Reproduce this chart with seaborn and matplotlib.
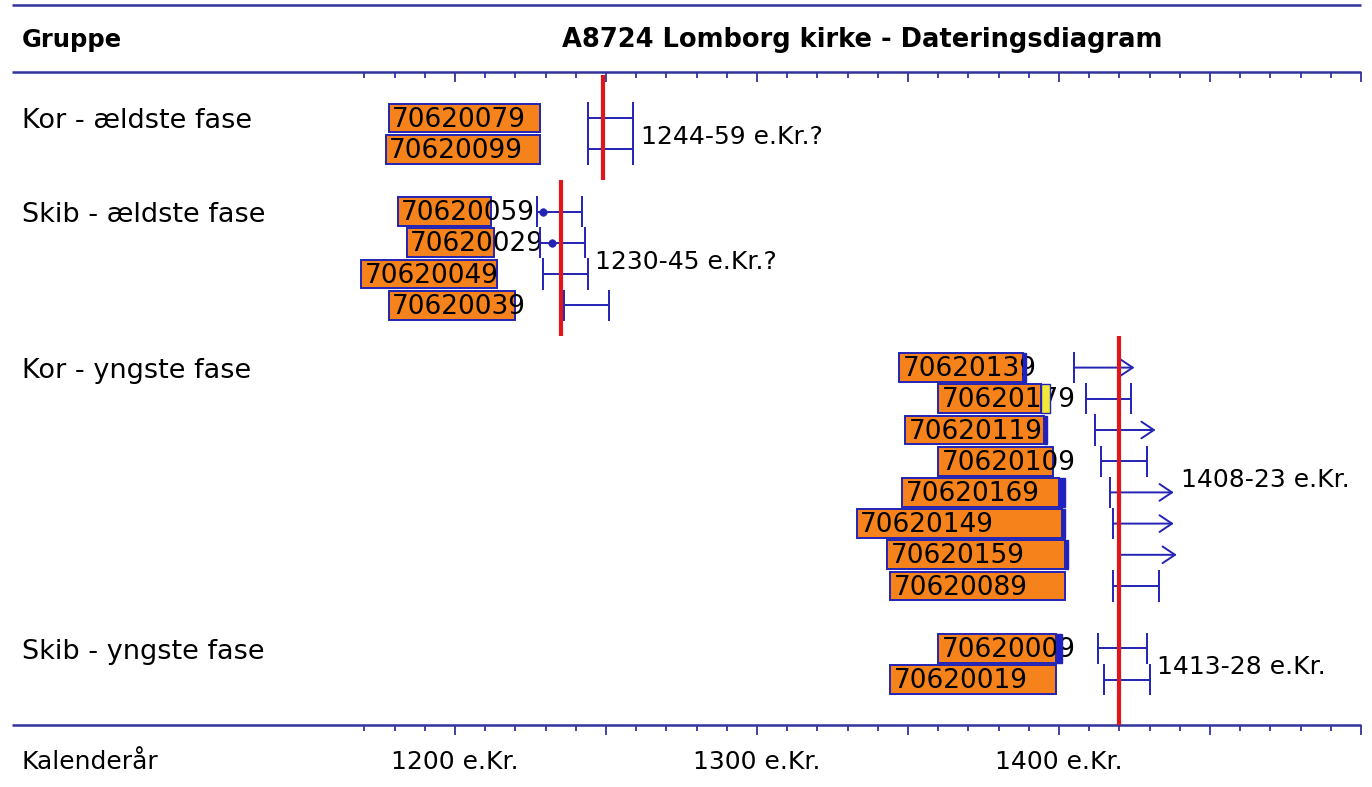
import numpy as np
import pandas as pd
import matplotlib
matplotlib.use('Agg')
import matplotlib.pyplot as plt
import matplotlib.transforms as mtransforms
import seaborn as sns

# --- data (calendar years AD) ---
samples = ['70620079', '70620099',
           '70620059', '70620029', '70620049', '70620039',
           '70620139', '70620179', '70620119', '70620109',
           '70620169', '70620149', '70620159', '70620089',
           '70620009', '70620019']
group_of = [0, 0, 1, 1, 1, 1, 2, 2, 2, 2, 2, 2, 2, 2, 3, 3]
first_year = [1178, 1177, 1181, 1184, 1169, 1178,
              1347, 1360, 1349, 1360, 1348, 1333, 1343, 1344, 1360, 1344]
last_heart = [1228, 1228, 1212, 1213, 1214, 1220,
              1388, 1394, 1395, 1398, 1400, 1401, 1402, 1402, 1399, 1399]
last_sap = [np.nan, np.nan, np.nan, np.nan, np.nan, np.nan,
            1389, 1397, 1396, np.nan, 1402, 1402, 1403, np.nan, 1401, np.nan]
sap_type = ['', '', '', '', '', '',
            'sure', 'unsure', 'sure', '', 'sure', 'sure', 'sure', '', 'sure', '']
fell_lo = [1244, 1244, 1227, 1228, 1229, 1236,
           1405, 1409, 1412, 1414, 1417, 1418, 1420, 1418, 1413, 1415]
fell_hi = [1259, 1259, 1242, 1243, 1244, 1251,
           1425, 1424, 1432, 1429, 1438, 1438, 1439, 1433, 1429, 1430]
open_end = [0, 0, 0, 0, 0, 0, 1, 0, 1, 0, 1, 1, 1, 0, 0, 0]
dot_year = [np.nan, np.nan, 1229, 1232] + [np.nan] * 12

groups = ['Kor - ældste fase', 'Skib - ældste fase', 'Kor - yngste fase', 'Skib - yngste fase']
group_fell = [1249, 1235, 1420, 1420]
group_dating = ['1244-59 e.Kr.?', '1230-45 e.Kr.?', '1408-23 e.Kr.', '1413-28 e.Kr.']

title = 'A8724 Lomborg kirke - Dateringsdiagram'
tick_years = [1200, 1300, 1400]

df = pd.DataFrame({'sample': samples, 'group': group_of, 'first': first_year,
                   'heart': last_heart, 'sap': last_sap, 'sap_type': sap_type,
                   'lo': fell_lo, 'hi': fell_hi, 'open': open_end, 'dot': dot_year})

# one empty row between groups
rows = []
r = 0
for i, g in enumerate(df['group']):
    if i > 0 and g != df['group'][i - 1]:
        r += 1
    rows.append(r)
    r += 1
df['row'] = rows

# --- style ---
sns.set_theme(style='white')
plt.rcParams['font.family'] = ['DejaVu Sans']
plt.rcParams['text.color'] = 'black'

line_col = '#33339e'
blue = '#2323b4'
orange = '#f5821a'
red = '#e0161b'
sap_col = {'sure': '#2020c8', 'unsure': '#f2e83a'}

W, H = 1372, 787
px_per_year = 3.02
x0 = 1200 - 455 / px_per_year
x1 = x0 + W / px_per_year
row_px = 31.2
y_top = -118 / row_px
y_bot = (H - 118) / row_px


def px_row(y):
    return (y - 118) / row_px


fig = plt.figure(figsize=(W / 100, H / 100), dpi=100)
ax = fig.add_axes([0, 0, 1, 1])
ax.set_xlim(x0, x1)
ax.set_ylim(y_bot, y_top)
ax.axis('off')
fig.patch.set_facecolor('white')

blend = mtransforms.blended_transform_factory(ax.transAxes, ax.transData)

# frame lines and year ticks
line_start = x0 + 12 / px_per_year
head_row, foot_row = px_row(72), px_row(725)
ax.hlines(px_row(5), line_start, 1500, color=line_col, lw=1.8)
ticks = np.arange(1170, 1501, 10)
for yr in [head_row, foot_row]:
    ax.hlines(yr, line_start, 1500, color=line_col, lw=1.8)
    long = ticks % 50 == 0
    ax.vlines(ticks[~long], yr, yr + 0.2, color=line_col, lw=1.3)
    ax.vlines(ticks[long], yr, yr + 0.32, color=line_col, lw=1.3)

ax.text(22 / W, px_row(40), 'Gruppe', transform=blend, fontsize=17.5,
        fontweight='bold', va='center', ha='left')
ax.text(862 / W, px_row(40), title, transform=blend, fontsize=18.5,
        fontweight='bold', va='center', ha='center')
ax.text(22 / W, px_row(762), 'Kalenderår', transform=blend, fontsize=18,
        va='center', ha='left')
for t in tick_years:
    ax.text(t, px_row(762), f'{t} e.Kr.', fontsize=18, va='center', ha='center')

# heartwood bars
bar_h = 0.92
ax.barh(df['row'], df['heart'] - df['first'], left=df['first'], height=bar_h,
        color=orange, edgecolor=blue, linewidth=1.4, zorder=2)
for _, s in df.iterrows():
    ax.text(s['first'] + 1.2, s['row'] + 0.05, s['sample'], fontsize=19,
            va='center', ha='left', color='black', zorder=3)

# sapwood
sp = df.dropna(subset=['sap'])
ax.barh(sp['row'], sp['sap'] - sp['heart'], left=sp['heart'], height=bar_h,
        color=[sap_col[t] for t in sp['sap_type']], edgecolor=blue,
        linewidth=1.0, zorder=4)

# felling intervals
for _, s in df.iterrows():
    rr = s['row']
    ax.vlines(s['lo'], rr - 0.5, rr + 0.5, color=blue, lw=1.4, zorder=5)
    if s['open']:
        ax.annotate('', xy=(s['hi'], rr), xytext=(s['lo'], rr), zorder=5,
                    arrowprops=dict(arrowstyle='->, head_length=0.45, head_width=0.3',
                                    color=blue, lw=1.4, shrinkA=0, shrinkB=0,
                                    mutation_scale=20))
    else:
        ax.hlines(rr, s['lo'], s['hi'], color=blue, lw=1.4, zorder=5)
        ax.vlines(s['hi'], rr - 0.5, rr + 0.5, color=blue, lw=1.4, zorder=5)

dots = df.dropna(subset=['dot'])
sns.scatterplot(x=dots['dot'], y=dots['row'], color=blue, s=30, ax=ax,
                zorder=6, legend=False, edgecolor=blue)

# group labels, felling lines and dating text
n_groups = len(groups)
for gi in range(n_groups):
    sub = df[df['group'] == gi]
    top = sub['row'].min() - 1
    bot = sub['row'].max() + 1
    if gi == 0:
        top = head_row + 0.1
    if gi == n_groups - 1:
        bot = foot_row
    ax.vlines(group_fell[gi], top, bot, color=red, lw=3, zorder=7)
    ax.text(22 / W, sub['row'].min() + 0.1, groups[gi], transform=blend,
            fontsize=19.5, va='center', ha='left')
    mid = sub['row'].mean()
    near = sub[(sub['row'] - mid).abs() <= 0.5]
    ax.text(near['hi'].max() + 2.5, mid + 0.1, group_dating[gi], fontsize=18,
            va='center', ha='left', zorder=8)

ax.set_xlim(x0, x1)
ax.set_ylim(y_bot, y_top)
fig.savefig('out.png', dpi=100, facecolor='white')
